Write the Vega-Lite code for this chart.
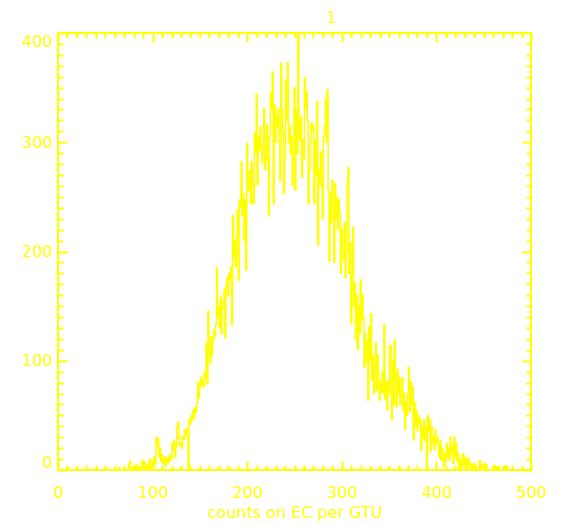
{
  "$schema": "https://vega.github.io/schema/vega-lite/v6.json",
  "autosize": "none",
  "width": 473,
  "height": 437,
  "padding": {"left": 58, "top": 33, "right": 31, "bottom": 55},
  "background": "#ffffff",
  "title": {"text": "1", "color": "#ffff00", "font": "DejaVu Sans", "fontSize": 16, "fontWeight": "normal", "dx": 37, "offset": 4},
  "config": {
    "view": {"stroke": "#ffff00", "strokeWidth": 2},
    "axis": {"domain": false, "grid": false, "tickColor": "#ffff00", "tickWidth": 2, "labelColor": "#ffff00", "labelFont": "DejaVu Sans", "labelFontSize": 16, "titleColor": "#ffff00", "titleFont": "DejaVu Sans", "titleFontSize": 16, "titleFontWeight": "normal"}
  },
  "data": {"values": [
    {"x":50,"n":0},{"x":51,"n":0},{"x":52,"n":0},{"x":53,"n":0},{"x":54,"n":0},{"x":55,"n":0},{"x":56,"n":0},{"x":57,"n":0},{"x":58,"n":0},{"x":59,"n":0},
    {"x":60,"n":0},{"x":61,"n":0},{"x":62,"n":0},{"x":63,"n":0},{"x":64,"n":0},{"x":65,"n":2},{"x":66,"n":0},{"x":67,"n":0},{"x":68,"n":0},{"x":69,"n":0},
    {"x":70,"n":0},{"x":71,"n":0},{"x":72,"n":0},{"x":73,"n":0},{"x":74,"n":0},{"x":75,"n":5},{"x":76,"n":8},{"x":77,"n":3},{"x":78,"n":0},{"x":79,"n":0},
    {"x":80,"n":2},{"x":81,"n":4},{"x":82,"n":0},{"x":83,"n":5},{"x":84,"n":0},{"x":85,"n":0},{"x":86,"n":3},{"x":87,"n":0},{"x":88,"n":2},{"x":89,"n":9},
    {"x":90,"n":4},{"x":91,"n":8},{"x":92,"n":0},{"x":93,"n":2},{"x":94,"n":5},{"x":95,"n":0},{"x":96,"n":3},{"x":97,"n":10},{"x":98,"n":2},{"x":99,"n":5},
    {"x":100,"n":8},{"x":101,"n":3},{"x":102,"n":12},{"x":103,"n":6},{"x":104,"n":30},{"x":105,"n":22},{"x":106,"n":28},{"x":107,"n":12},{"x":108,"n":20},{"x":109,"n":8},
    {"x":110,"n":14},{"x":111,"n":6},{"x":112,"n":10},{"x":113,"n":12},{"x":114,"n":4},{"x":115,"n":10},{"x":116,"n":6},{"x":117,"n":12},{"x":118,"n":8},{"x":119,"n":14},
    {"x":120,"n":10},{"x":121,"n":24},{"x":122,"n":18},{"x":123,"n":27},{"x":124,"n":12},{"x":125,"n":22},{"x":126,"n":39},{"x":127,"n":44},{"x":128,"n":30},{"x":129,"n":22},
    {"x":130,"n":25},{"x":131,"n":20},{"x":132,"n":31},{"x":133,"n":28},{"x":134,"n":36},{"x":135,"n":33},{"x":136,"n":38},{"x":137,"n":30},{"x":138,"n":0},{"x":139,"n":46},
    {"x":140,"n":42},{"x":141,"n":50},{"x":142,"n":46},{"x":143,"n":55},{"x":144,"n":48},{"x":145,"n":57},{"x":146,"n":53},{"x":147,"n":61},{"x":148,"n":80},{"x":149,"n":66},
    {"x":150,"n":75},{"x":151,"n":85},{"x":152,"n":78},{"x":153,"n":82},{"x":154,"n":76},{"x":155,"n":89},{"x":156,"n":84},{"x":157,"n":116},{"x":158,"n":79},{"x":159,"n":145},
    {"x":160,"n":110},{"x":161,"n":98},{"x":162,"n":122},{"x":163,"n":105},{"x":164,"n":118},{"x":165,"n":128},{"x":166,"n":122},{"x":167,"n":133},{"x":168,"n":185},{"x":169,"n":140},
    {"x":170,"n":150},{"x":171,"n":130},{"x":172,"n":158},{"x":173,"n":125},{"x":174,"n":148},{"x":175,"n":155},{"x":176,"n":165},{"x":177,"n":121},{"x":178,"n":170},{"x":179,"n":176},
    {"x":180,"n":160},{"x":181,"n":180},{"x":182,"n":174},{"x":183,"n":186},{"x":184,"n":133},{"x":185,"n":233},{"x":186,"n":195},{"x":187,"n":210},{"x":188,"n":186},{"x":189,"n":215},
    {"x":190,"n":238},{"x":191,"n":174},{"x":192,"n":247},{"x":193,"n":240},{"x":194,"n":282},{"x":195,"n":233},{"x":196,"n":253},{"x":197,"n":210},{"x":198,"n":247},{"x":199,"n":183},
    {"x":200,"n":299},{"x":201,"n":265},{"x":202,"n":256},{"x":203,"n":274},{"x":204,"n":244},{"x":205,"n":282},{"x":206,"n":262},{"x":207,"n":244},{"x":208,"n":308},{"x":209,"n":290},
    {"x":210,"n":344},{"x":211,"n":261},{"x":212,"n":305},{"x":213,"n":293},{"x":214,"n":314},{"x":215,"n":298},{"x":216,"n":281},{"x":217,"n":293},{"x":218,"n":331},{"x":219,"n":275},
    {"x":220,"n":283},{"x":221,"n":316},{"x":222,"n":285},{"x":223,"n":233},{"x":224,"n":305},{"x":225,"n":345},{"x":226,"n":330},{"x":227,"n":364},{"x":228,"n":244},{"x":229,"n":334},
    {"x":230,"n":300},{"x":231,"n":325},{"x":232,"n":314},{"x":233,"n":331},{"x":234,"n":300},{"x":235,"n":265},{"x":236,"n":372},{"x":237,"n":330},{"x":238,"n":309},{"x":239,"n":253},
    {"x":240,"n":286},{"x":241,"n":357},{"x":242,"n":320},{"x":243,"n":373},{"x":244,"n":300},{"x":245,"n":315},{"x":246,"n":290},{"x":247,"n":305},{"x":248,"n":260},{"x":249,"n":290},
    {"x":250,"n":350},{"x":251,"n":256},{"x":252,"n":330},{"x":253,"n":290},{"x":254,"n":400},{"x":255,"n":315},{"x":256,"n":302},{"x":257,"n":323},{"x":258,"n":268},{"x":259,"n":302},
    {"x":260,"n":285},{"x":261,"n":359},{"x":262,"n":330},{"x":263,"n":346},{"x":264,"n":320},{"x":265,"n":244},{"x":266,"n":275},{"x":267,"n":300},{"x":268,"n":318},{"x":269,"n":310},
    {"x":270,"n":316},{"x":271,"n":244},{"x":272,"n":302},{"x":273,"n":270},{"x":274,"n":337},{"x":275,"n":206},{"x":276,"n":275},{"x":277,"n":260},{"x":278,"n":291},{"x":279,"n":270},
    {"x":280,"n":230},{"x":281,"n":305},{"x":282,"n":315},{"x":283,"n":340},{"x":284,"n":300},{"x":285,"n":348},{"x":286,"n":256},{"x":287,"n":192},{"x":288,"n":253},{"x":289,"n":226},
    {"x":290,"n":265},{"x":291,"n":240},{"x":292,"n":190},{"x":293,"n":262},{"x":294,"n":230},{"x":295,"n":250},{"x":296,"n":220},{"x":297,"n":247},{"x":298,"n":235},{"x":299,"n":180},
    {"x":300,"n":220},{"x":301,"n":208},{"x":302,"n":192},{"x":303,"n":226},{"x":304,"n":176},{"x":305,"n":200},{"x":306,"n":265},{"x":307,"n":277},{"x":308,"n":180},{"x":309,"n":208},
    {"x":310,"n":134},{"x":311,"n":178},{"x":312,"n":222},{"x":313,"n":150},{"x":314,"n":171},{"x":315,"n":119},{"x":316,"n":160},{"x":317,"n":110},{"x":318,"n":150},{"x":319,"n":125},
    {"x":320,"n":174},{"x":321,"n":137},{"x":322,"n":160},{"x":323,"n":140},{"x":324,"n":94},{"x":325,"n":125},{"x":326,"n":100},{"x":327,"n":118},{"x":328,"n":64},{"x":329,"n":131},
    {"x":330,"n":100},{"x":331,"n":143},{"x":332,"n":82},{"x":333,"n":105},{"x":334,"n":70},{"x":335,"n":95},{"x":336,"n":116},{"x":337,"n":73},{"x":338,"n":105},{"x":339,"n":85},
    {"x":340,"n":64},{"x":341,"n":80},{"x":342,"n":72},{"x":343,"n":90},{"x":344,"n":70},{"x":345,"n":133},{"x":346,"n":65},{"x":347,"n":80},{"x":348,"n":55},{"x":349,"n":82},
    {"x":350,"n":70},{"x":351,"n":113},{"x":352,"n":114},{"x":353,"n":46},{"x":354,"n":100},{"x":355,"n":60},{"x":356,"n":119},{"x":357,"n":85},{"x":358,"n":58},{"x":359,"n":92},
    {"x":360,"n":70},{"x":361,"n":85},{"x":362,"n":60},{"x":363,"n":72},{"x":364,"n":84},{"x":365,"n":55},{"x":366,"n":70},{"x":367,"n":37},{"x":368,"n":62},{"x":369,"n":50},
    {"x":370,"n":70},{"x":371,"n":94},{"x":372,"n":53},{"x":373,"n":81},{"x":374,"n":60},{"x":375,"n":76},{"x":376,"n":28},{"x":377,"n":62},{"x":378,"n":40},{"x":379,"n":55},
    {"x":380,"n":36},{"x":381,"n":50},{"x":382,"n":42},{"x":383,"n":46},{"x":384,"n":18},{"x":385,"n":40},{"x":386,"n":30},{"x":387,"n":46},{"x":388,"n":27},{"x":389,"n":40},
    {"x":390,"n":0},{"x":391,"n":50},{"x":392,"n":35},{"x":393,"n":46},{"x":394,"n":17},{"x":395,"n":40},{"x":396,"n":25},{"x":397,"n":30},{"x":398,"n":19},{"x":399,"n":37},
    {"x":400,"n":25},{"x":401,"n":30},{"x":402,"n":22},{"x":403,"n":12},{"x":404,"n":27},{"x":405,"n":9},{"x":406,"n":20},{"x":407,"n":15},{"x":408,"n":3},{"x":409,"n":15},
    {"x":410,"n":8},{"x":411,"n":24},{"x":412,"n":12},{"x":413,"n":20},{"x":414,"n":9},{"x":415,"n":30},{"x":416,"n":15},{"x":417,"n":22},{"x":418,"n":6},{"x":419,"n":30},
    {"x":420,"n":12},{"x":421,"n":25},{"x":422,"n":8},{"x":423,"n":15},{"x":424,"n":0},{"x":425,"n":10},{"x":426,"n":0},{"x":427,"n":8},{"x":428,"n":15},{"x":429,"n":3},
    {"x":430,"n":12},{"x":431,"n":5},{"x":432,"n":10},{"x":433,"n":1},{"x":434,"n":11},{"x":435,"n":4},{"x":436,"n":6},{"x":437,"n":0},{"x":438,"n":5},{"x":439,"n":0},
    {"x":440,"n":6},{"x":441,"n":2},{"x":442,"n":4},{"x":443,"n":0},{"x":444,"n":0},{"x":445,"n":0},{"x":446,"n":9},{"x":447,"n":2},{"x":448,"n":5},{"x":449,"n":0},
    {"x":450,"n":0},{"x":451,"n":6},{"x":452,"n":0},{"x":453,"n":5},{"x":454,"n":0},{"x":455,"n":0},{"x":456,"n":0},{"x":457,"n":0},{"x":458,"n":0},{"x":459,"n":0},
    {"x":460,"n":3},{"x":461,"n":0},{"x":462,"n":4},{"x":463,"n":0},{"x":464,"n":3},{"x":465,"n":0},{"x":466,"n":3},{"x":467,"n":0},{"x":468,"n":0},{"x":469,"n":0},
    {"x":470,"n":0},{"x":471,"n":0},{"x":472,"n":0},{"x":473,"n":4},{"x":474,"n":0},{"x":475,"n":3},{"x":476,"n":0},{"x":477,"n":0},{"x":478,"n":0},{"x":479,"n":0},
    {"x":480,"n":0},{"x":481,"n":0},{"x":482,"n":0},{"x":483,"n":0},{"x":484,"n":0},{"x":485,"n":0},{"x":486,"n":0},{"x":487,"n":0},{"x":488,"n":0},{"x":489,"n":0},{"x":490,"n":0}
  ]},
  "resolve": {"axis": {"x": "independent", "y": "independent"}},
  "layer": [
    {
      "mark": {"type": "line", "interpolate": "step", "color": "#ffff00", "strokeWidth": 1.5, "clip": true},
      "encoding": {
        "x": {"field": "x", "type": "quantitative", "scale": {"domain": [0, 500], "nice": false, "zero": false},
              "axis": {"orient": "bottom", "values": [0, 100, 200, 300, 400, 500], "tickSize": -9, "labelPadding": 23, "labelFlush": false, "title": "counts on EC per GTU", "titlePadding": 4}},
        "y": {"field": "n", "type": "quantitative", "scale": {"domain": [0, 400], "nice": false},
              "axis": {"orient": "left", "values": [0, 100, 200, 300, 400], "tickSize": -9, "labelPadding": 15, "labelFlush": true, "title": null}}
      }
    },
    {
      "mark": {"type": "point", "opacity": 0},
      "encoding": {
        "x": {"field": "x", "type": "quantitative", "axis": {"orient": "bottom", "values": [10,20,30,40,50,60,70,80,90,110,120,130,140,150,160,170,180,190,210,220,230,240,250,260,270,280,290,310,320,330,340,350,360,370,380,390,410,420,430,440,450,460,470,480,490], "tickSize": -5, "labels": false, "title": null}},
        "y": {"field": "n", "type": "quantitative", "axis": {"orient": "left", "values": [10,20,30,40,50,60,70,80,90,110,120,130,140,150,160,170,180,190,210,220,230,240,250,260,270,280,290,310,320,330,340,350,360,370,380,390], "tickSize": -5, "labels": false, "title": null}}
      }
    },
    {
      "mark": {"type": "point", "opacity": 0},
      "encoding": {
        "x": {"field": "x", "type": "quantitative", "axis": {"orient": "top", "values": [0, 100, 200, 300, 400, 500], "tickSize": -9, "labels": false, "title": null}},
        "y": {"field": "n", "type": "quantitative", "axis": {"orient": "right", "values": [0, 100, 200, 300, 400], "tickSize": -9, "labels": false, "title": null}}
      }
    },
    {
      "mark": {"type": "point", "opacity": 0},
      "encoding": {
        "x": {"field": "x", "type": "quantitative", "axis": {"orient": "top", "values": [10,20,30,40,50,60,70,80,90,110,120,130,140,150,160,170,180,190,210,220,230,240,250,260,270,280,290,310,320,330,340,350,360,370,380,390,410,420,430,440,450,460,470,480,490], "tickSize": -5, "labels": false, "title": null}},
        "y": {"field": "n", "type": "quantitative", "axis": {"orient": "right", "values": [10,20,30,40,50,60,70,80,90,110,120,130,140,150,160,170,180,190,210,220,230,240,250,260,270,280,290,310,320,330,340,350,360,370,380,390], "tickSize": -5, "labels": false, "title": null}}
      }
    }
  ]
}
